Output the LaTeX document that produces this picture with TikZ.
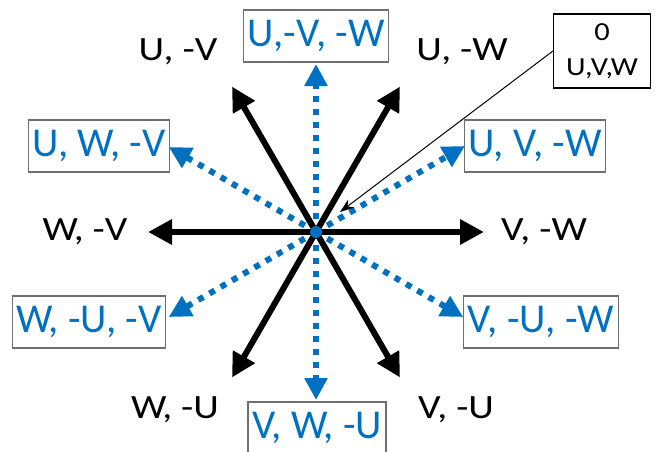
\documentclass[tikz,border=0pt]{standalone}
\usepackage{fontspec}
\setmainfont{Carlito}
\usepackage{xcolor}
\usepackage{graphicx}
\usetikzlibrary{positioning, arrows.meta, calc}
\definecolor{vecblue}{RGB}{0,112,192}
\definecolor{boxgray}{RGB}{110,110,110}
\newcommand{\wide}[1]{\scalebox{1.17}[1]{#1}}

\begin{document}
\begin{tikzpicture}[
      x=1pt, y=1pt,
      every node/.style = {font=\fontsize{41}{44}\selectfont},
      active/.style = {-{Triangle[length=24pt, width=24pt]}, line width=6pt, black},
      mixed/.style = {-{Triangle[length=22pt, width=22pt]}, line width=6pt, color=vecblue,
                      dash pattern=on 6pt off 7pt},
      state/.style = {text=vecblue, draw=boxgray, line width=1.2pt, inner xsep=4pt,
                      inner ysep=2pt, minimum height=52pt},
      plain/.style = {text=black, font=\fontsize{34}{38}\selectfont}
    ]
    \useasboundingbox (0,0) rectangle (656,451);
    \coordinate (c) at (316,219);
    % black vectors
    \foreach \a/\n in {0/r, 60/ur, 120/ul, 180/l, 240/dl, 300/dr}
      \coordinate (k\n) at ($(c)+(\a:168)$);
    % blue vectors
    \foreach \a/\n/\r in {90/u/168, 30/ur/172, 150/ul/170, 210/dl/170, 330/dr/170, 270/d/168}
      \coordinate (b\n) at ($(c)+(\a:\r)$);
    \foreach \n in {u, ur, ul, dl, dr, d}
      \draw[mixed] (c) -- (b\n);
    \foreach \n in {r, ur, ul, l, dl, dr}
      \draw[active] (c) -- (k\n);
    \node[circle, fill=vecblue, inner sep=0pt, minimum size=12pt] (dot) at (c) {};

    \node[plain] (uv)   at (178,399) {\wide{U, -V}};
    \node[plain] (uw)   at (462,399) {\wide{U, -W}};
    \node[plain] (wv)   at (85,219)  {\wide{W, -V}};
    \node[plain] (vw)   at (544,219) {\wide{V, -W}};
    \node[plain] (wu)   at (175,41)  {\wide{W, -U}};
    \node[plain] (vu)   at (456,41)  {\wide{V, -U}};
    \node[state] (uvw)  at (316,415) {U,-V, -W};
    \node[state] (uwv)  at (99,305)  {U, W, -V};
    \node[state] (uvmw) at (535,305) {U, V, -W};
    \node[state] (wuv)  at (89,129)  {W, -U, -V};
    \node[state] (vuw)  at (541,129) {V, -U, -W};
    \node[state] (vwu)  at (317,23)  {V, W, -U};
    \node[draw, line width=1.2pt, align=center, inner sep=4pt, minimum width=97pt,
          minimum height=74pt, font=\fontsize{26}{35}\selectfont] (zero) at (602,400)
          {\wide{0}\\\wide{U,V,W}};
    \coordinate (ptr) at (340,239);
    \draw[-{Stealth[length=14pt, width=10pt]}, line width=1pt] (zero.west) -- (ptr);
  \end{tikzpicture}
\end{document}
